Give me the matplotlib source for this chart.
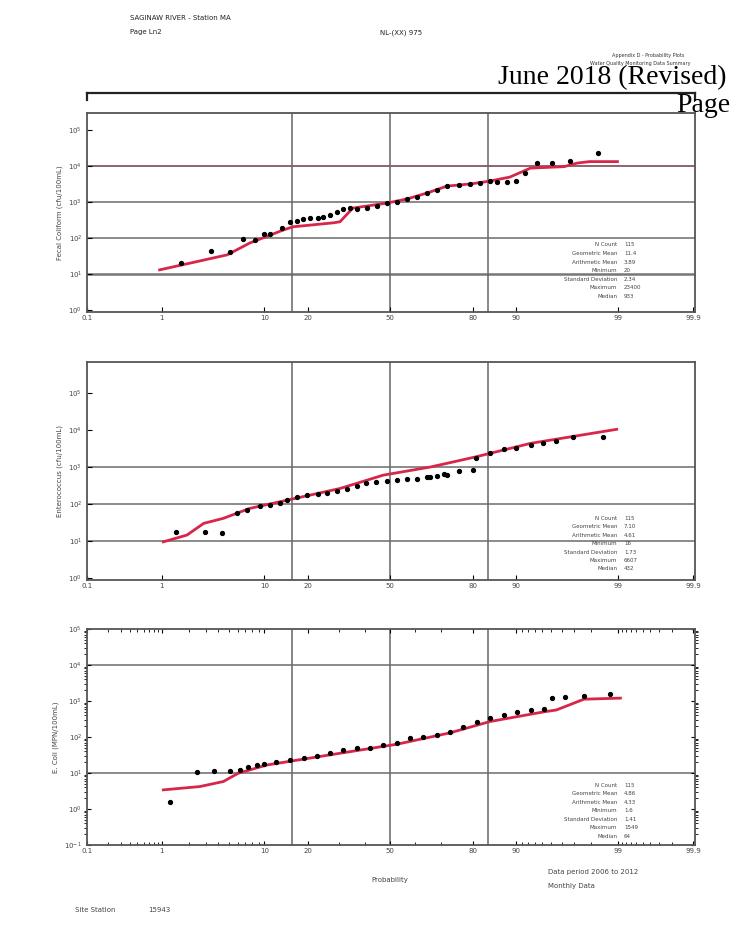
from statistics import NormalDist
import matplotlib.pyplot as plt
import numpy as np

W, H = 736, 930
ND = NormalDist()

# probability axis ticks (percent)
PROB_TICKS = [0.1, 1, 10, 20, 50, 80, 90, 99, 99.9]
PROB_LABELS = ["0.1", "1", "10", "20", "50", "80", "90", "99", "99.9"]
PROB_MINOR = [0.2, 0.3, 0.4, 0.5, 0.6, 0.7, 0.8, 0.9, 2, 3, 4, 5, 6, 7, 8, 9,
              30, 40, 60, 70, 91, 92, 93, 94, 95, 96, 97, 98,
              99.1, 99.2, 99.3, 99.4, 99.5, 99.6, 99.7, 99.8]

# panel 1 - fecal coliform
p1_prob = [1.66, 3.4, 5.1, 6.7, 8.4, 10.0, 11.1, 13.6, 15.4, 17.1, 18.7, 20.6, 23.0,
           24.8, 27.1, 29.5, 31.6, 34.1, 36.7, 40.9, 44.8, 48.8, 52.8, 56.7, 61.0,
           64.8, 68.4, 71.9, 75.8, 79.4, 82.1, 84.6, 86.2, 88.3, 90.1, 91.6, 93.3,
           95.1, 96.7, 98.3]
p1_val = [20, 44, 42, 93, 87, 129, 129, 190, 270, 295, 340, 363, 363,
          390, 437, 537, 631, 661, 646, 692, 776, 912, 1023, 1202, 1413,
          1738, 2138, 2754, 3000, 3160, 3400, 3800, 3630, 3470, 3890, 6310, 12300,
          12300, 13800, 23400]
p1_fit_prob = [0.94, 2.07, 4.85, 7.6, 13.8, 16.1, 28.1, 30.5, 35.2, 39.0, 48.8, 56.7,
               64.8, 71.9, 79.4, 84.6, 88.9, 92.4, 96.2, 97.2, 97.9, 98.98]
p1_fit_val = [13, 20, 34, 72, 166, 204, 263, 282, 676, 741, 933, 1202,
              1778, 2754, 3162, 3802, 4898, 8710, 9550, 12020, 13180, 13180]

# panel 2 - enterococcus
p2_prob = [1.46, 2.94, 4.36, 5.94, 7.2, 9.2, 11.1, 13.1, 14.7, 17.1, 19.8, 23.0, 26.1,
           29.5, 33.0, 36.7, 40.5, 44.4, 48.8, 52.8, 56.7, 61.0, 64.8, 65.9, 68.4,
           70.9, 71.9, 75.8, 80.2, 81.1, 84.6, 87.7, 90.1, 92.4, 94.1, 95.5, 96.9, 98.5]
p2_val = [17, 17, 16, 56, 69, 89, 93, 105, 129, 155, 174, 186, 200,
          229, 251, 309, 363, 398, 417, 447, 468, 479, 525, 550, 575,
          660, 603, 760, 832, 1738, 2344, 3020, 3236, 3890, 4571, 5129, 6310, 6607]
p2_fit_prob = [1.04, 1.92, 2.87, 4.46, 7.6, 30.5, 47.2, 65.9, 71.9, 81.1, 92.4, 98.96]
p2_fit_val = [9.5, 14.5, 30, 41, 76, 263, 603, 1000, 1259, 1905, 4365, 10470]

# panel 3 - e. coli
p3_prob = [1.25, 2.44, 3.67, 5.16, 6.3, 7.35, 8.7, 10.0, 12.3, 15.4, 18.9, 22.7, 27.1,
           31.6, 36.7, 42.1, 47.2, 52.8, 57.9, 63.3, 68.4, 72.9, 77.3, 81.3, 84.6,
           87.7, 90.3, 92.4, 94.2, 95.1, 96.3, 97.6, 98.75]
p3_val = [1.6, 10.5, 11.5, 11.5, 12, 14.5, 16.6, 17.4, 20, 23, 26, 30, 35,
          44, 49, 51, 60, 69, 91, 102, 115, 141, 195, 269, 331,
          407, 501, 562, 589, 1230, 1318, 1413, 1549]
p3_fit_prob = [1.04, 2.62, 4.46, 6.06, 10.4, 27.1, 52.8, 72.9, 84.6, 94.2, 95.5, 97.6, 99.06]
p3_fit_val = [3.4, 4.2, 5.8, 9.8, 16.6, 32, 63, 130, 269, 501, 562, 1122, 1202]

stats_labels = ["N Count", "Geometric Mean", "Arithmetic Mean", "Minimum",
                "Standard Deviation", "Maximum", "Median"]
p1_stats = ["115", "11.4", "3.89", "20", "2.34", "23400", "933"]
p2_stats = ["115", "7.10", "4.61", "16", "1.73", "6607", "432"]
p3_stats = ["115", "4.86", "4.33", "1.6", "1.41", "1549", "64"]

RED = "#d8264a"


def z(p):
    return np.array([ND.inv_cdf(v / 100.0) for v in p])


def px(x, y):
    return x / W, 1 - y / H


fig = plt.figure(figsize=(W / 100, H / 100), dpi=100)
fig.patch.set_facecolor("white")

# (top px, bottom px, ylim decades, gridline decades, ylabel, data..., stats y)
panels = [
    (113, 312, (-0.056, 5.47), [1, 2, 3, 4], "Fecal Coliform (cfu/100mL)",
     p1_prob, p1_val, p1_fit_prob, p1_fit_val, p1_stats, 245),
    (362, 580, (-0.054, 5.84), [1, 2, 3], "Enterococcus (cfu/100mL)",
     p2_prob, p2_val, p2_fit_prob, p2_fit_val, p2_stats, 518),
    (629, 845, (-1.0, 5.0), [1, 4], "E. Coli (MPN/100mL)",
     p3_prob, p3_val, p3_fit_prob, p3_fit_val, p3_stats, 785),
]

for i, (top, bot, yl, grid, ylab, pp, vv, fp, fv, st, sty) in enumerate(panels):
    x0, y0 = px(87, bot)
    ax = fig.add_axes([x0, y0, 608 / W, (bot - top) / H])
    ax.set_yscale("log")
    ax.set_xlim(-3.09, 3.11)
    ax.set_ylim(10 ** yl[0], 10 ** yl[1])

    for d in grid:
        c = "#7a4a55" if (i == 0 and d == 4) else "#777"
        lw = 1.8 if (i == 0 and d == 1) else 1.2
        ax.axhline(10 ** d, color=c, lw=lw, zorder=1)
    for g in (-1, 0, 1):
        ax.axvline(g, color="#666", lw=1.1, zorder=1)

    ax.plot(z(fp), fv, color=RED, lw=2.0, zorder=2)
    ax.plot(z(pp), vv, "o", color="black", ms=2.8, zorder=3)

    ax.set_xticks(z(PROB_TICKS))
    ax.set_xticklabels(PROB_LABELS, fontsize=5, color="#444")
    ax.set_xticks(z(PROB_MINOR), minor=True)
    lo = int(np.ceil(yl[0]))
    hi = int(np.floor(yl[1]))
    ax.set_yticks([10.0 ** k for k in range(lo, hi + 1)])
    ax.tick_params(axis="y", labelsize=5, labelcolor="#444", direction="in")
    ax.tick_params(axis="x", which="both", direction="in", pad=2)
    if i == 2:
        ax.tick_params(which="both", top=True, right=True, length=3)
        ax.tick_params(which="minor", length=2)
    else:
        ax.tick_params(which="minor", length=0)
        ax.yaxis.set_minor_locator(plt.NullLocator())
    for s in ax.spines.values():
        s.set_color("#555")
        s.set_linewidth(1.3)

    ax.set_ylabel(ylab, fontsize=5, color="#444", labelpad=4)

    # summary statistics block
    for k, (lab, val) in enumerate(zip(stats_labels, st)):
        fig.text(*px(617, sty + k * 8.5), lab, fontsize=4, ha="right",
                 va="center", color="#444")
        fig.text(*px(624, sty + k * 8.5), val, fontsize=4, ha="left",
                 va="center", color="#444")

# header
fig.text(*px(130, 20), "SAGINAW RIVER - Station MA", fontsize=5, color="#222")
fig.text(*px(130, 34), "Page Ln2", fontsize=5, color="#222")
fig.text(*px(380, 34), "NL-(XX) 975", fontsize=5, color="#222")
fig.text(*px(612, 57), "Appendix D - Probability Plots", fontsize=3.5, color="#333")
fig.text(*px(590, 65), "Water Quality Monitoring Data Summary", fontsize=3.5, color="#333")
fig.text(*px(498, 84), "June 2018 (Revised)", fontsize=20,
         family="Liberation Serif", va="baseline")
fig.text(*px(676, 112), "Page", fontsize=20,
         family="Liberation Serif", va="baseline")
fig.add_artist(plt.Line2D([87 / W, 695 / W], [1 - 93 / H, 1 - 93 / H],
                          color="#222", lw=1.6))
fig.add_artist(plt.Line2D([87 / W, 87 / W], [1 - 93 / H, 1 - 100 / H],
                          color="#222", lw=1.6))
fig.add_artist(plt.Line2D([695 / W, 695 / W], [1 - 93 / H, 1 - 100 / H],
                          color="#222", lw=1.6))

# footer
fig.text(*px(390, 882), "Probability", fontsize=5, ha="center", color="#444")
fig.text(*px(548, 874), "Data period 2006 to 2012", fontsize=5, color="#444")
fig.text(*px(548, 888), "Monthly Data", fontsize=5, color="#444")
fig.text(*px(75, 912), "Site Station", fontsize=5, color="#444")
fig.text(*px(148, 912), "15943", fontsize=5, color="#444")

fig.savefig("out.png", dpi=100)
